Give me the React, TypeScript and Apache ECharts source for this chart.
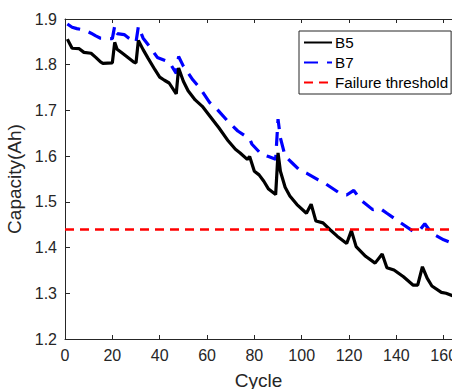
import React, { useEffect, useRef } from "react";
import * as echarts from "echarts";

const B5_CYCLES = [1, 2, 3, 6, 8, 11, 13, 15, 16, 20, 21, 22, 24, 27, 29, 30, 31, 33, 35, 38, 40, 42, 44, 47, 48, 50, 52, 55, 58, 61, 65, 69, 72, 74, 77, 78, 80, 82, 84, 86, 89, 90, 91, 93, 95, 98, 102, 104, 106, 109, 112, 115, 119, 121, 123, 127, 131, 134, 136, 139, 143, 147, 149, 151, 153, 155, 159, 161, 164];
const B5_CAPACITY = [1.856, 1.846, 1.836, 1.835, 1.827, 1.825, 1.816, 1.806, 1.803, 1.804, 1.849, 1.834, 1.826, 1.814, 1.806, 1.804, 1.853, 1.833, 1.815, 1.789, 1.773, 1.766, 1.760, 1.736, 1.793, 1.764, 1.743, 1.723, 1.709, 1.689, 1.662, 1.633, 1.615, 1.607, 1.593, 1.599, 1.567, 1.559, 1.545, 1.528, 1.516, 1.607, 1.567, 1.532, 1.513, 1.494, 1.475, 1.495, 1.458, 1.454, 1.439, 1.425, 1.409, 1.437, 1.402, 1.381, 1.366, 1.386, 1.356, 1.351, 1.336, 1.318, 1.318, 1.358, 1.333, 1.316, 1.302, 1.300, 1.294];

const B7_CYCLES = [1, 3, 5, 8, 11, 13, 15, 20, 21, 22, 25, 27, 30, 31, 33, 36, 39, 42, 44, 47, 48, 50, 54, 57, 61, 64, 69, 73, 78, 79, 83, 86, 89, 90, 91, 93, 96, 99, 102, 107, 110, 116, 119, 122, 125, 130, 133, 136, 141, 147, 150, 152, 155, 160, 164];
const B7_CAPACITY = [1.889, 1.882, 1.879, 1.876, 1.869, 1.863, 1.858, 1.857, 1.885, 1.868, 1.866, 1.858, 1.849, 1.884, 1.858, 1.838, 1.816, 1.810, 1.806, 1.781, 1.818, 1.797, 1.767, 1.749, 1.718, 1.704, 1.675, 1.655, 1.638, 1.626, 1.604, 1.599, 1.593, 1.681, 1.640, 1.600, 1.585, 1.570, 1.563, 1.548, 1.540, 1.519, 1.515, 1.525, 1.504, 1.483, 1.486, 1.475, 1.457, 1.436, 1.439, 1.452, 1.431, 1.417, 1.409];

const FAILURE_THRESHOLD = 1.44;

const X_MIN = 0;
const X_MAX = 163.5;
const X_INTERVAL = 20;
const Y_MIN = 1.2;
const Y_MAX = 1.9;
const Y_INTERVAL = 0.1;

const FONT = "'Liberation Sans', Arial, Helvetica, sans-serif";
const AXIS_COLOR = "#262626";

export default function App() {
  const ref = useRef<HTMLDivElement>(null);

  useEffect(() => {
    document.documentElement.style.margin = "0";
    document.documentElement.style.overflow = "hidden";
    document.body.style.margin = "0";
    document.body.style.overflow = "hidden";
    if (!ref.current) return;
    const chart = echarts.init(ref.current, undefined, { renderer: "svg" });

    const b5 = B5_CYCLES.map((c, i) => [c, B5_CAPACITY[i]]);
    const b7 = B7_CYCLES.map((c, i) => [c, B7_CAPACITY[i]]);

    const baseX = {
      type: "value" as const,
      min: X_MIN,
      max: X_MAX,
      interval: X_INTERVAL,
      splitLine: { show: false },
      axisLine: { show: true, lineStyle: { color: AXIS_COLOR, width: 1 } },
      axisTick: { show: true, inside: true, length: 4, lineStyle: { color: AXIS_COLOR } },
    };

    chart.setOption({
      animation: false,
      backgroundColor: "#ffffff",
      textStyle: { fontFamily: FONT },
      grid: {
        left: 65,
        right: 0,
        top: 19,
        bottom: 50,
        containLabel: false,
        outerBoundsMode: "none",
      },
      xAxis: [
        {
          ...baseX,
          position: "bottom",
          name: "Cycle",
          nameLocation: "middle",
          nameGap: 32,
          nameTextStyle: { fontSize: 19, color: AXIS_COLOR, fontFamily: FONT },
          axisLabel: {
            show: true,
            fontSize: 16,
            color: AXIS_COLOR,
            fontFamily: FONT,
            margin: 8,
            showMaxLabel: false,
            hideOverlap: false,
            formatter: (v: number) => (v % X_INTERVAL === 0 ? String(v) : ""),
          },
        },
        {
          ...baseX,
          position: "top",
          axisLabel: { show: false },
        },
      ],
      yAxis: {
        type: "value",
        min: Y_MIN,
        max: Y_MAX,
        interval: Y_INTERVAL,
        name: "Capacity(Ah)",
        nameLocation: "middle",
        nameGap: 35,
        nameTextStyle: { fontSize: 19, color: AXIS_COLOR, fontFamily: FONT },
        splitLine: { show: false },
        axisLine: { show: true, lineStyle: { color: AXIS_COLOR, width: 1 } },
        axisTick: { show: true, inside: true, length: 5, lineStyle: { color: AXIS_COLOR } },
        axisLabel: {
          fontSize: 16,
          color: AXIS_COLOR,
          fontFamily: FONT,
          margin: 8,
          formatter: (v: number) => v.toFixed(1),
        },
      },
      legend: {
        orient: "vertical",
        left: 299,
        top: 31,
        padding: [4, 3, 4, 4],
        itemGap: 5,
        itemWidth: 28,
        itemHeight: 15,
        borderColor: AXIS_COLOR,
        borderWidth: 1,
        backgroundColor: "#ffffff",
        itemStyle: { opacity: 0 },
        textStyle: { fontSize: 15.2, color: "#000", fontFamily: FONT, padding: [0, 0, 0, -2] },
        data: ["B5", "B7", "Failure threshold"],
      },
      series: [
        {
          name: "B5",
          type: "line",
          data: b5,
          symbol: "none",
          showSymbol: false,
          clip: true,
          lineStyle: { color: "#000000", width: 3.2 },
          itemStyle: { color: "#000000" },
          z: 3,
        },
        {
          name: "B7",
          type: "line",
          data: b7,
          symbol: "none",
          showSymbol: false,
          clip: true,
          lineStyle: { color: "#0000ff", width: 3.2, type: [14, 9] },
          itemStyle: { color: "#0000ff" },
          z: 2,
        },
        {
          name: "Failure threshold",
          type: "line",
          data: [],
          symbol: "none",
          lineStyle: { color: "#ff0000", width: 2.5, type: [9, 6] },
          itemStyle: { color: "#ff0000" },
          markLine: {
            silent: true,
            symbol: "none",
            label: { show: false },
            lineStyle: { color: "#ff0000", width: 2.5, type: [9, 6] },
            data: [{ yAxis: FAILURE_THRESHOLD }],
          },
          z: 1,
        },
      ],
    });

    return () => {
      chart.dispose();
    };
  }, []);

  return (
    <div
      ref={ref}
      style={{ position: "absolute", left: 0, top: 0, width: 452, height: 389 }}
    />
  );
}
